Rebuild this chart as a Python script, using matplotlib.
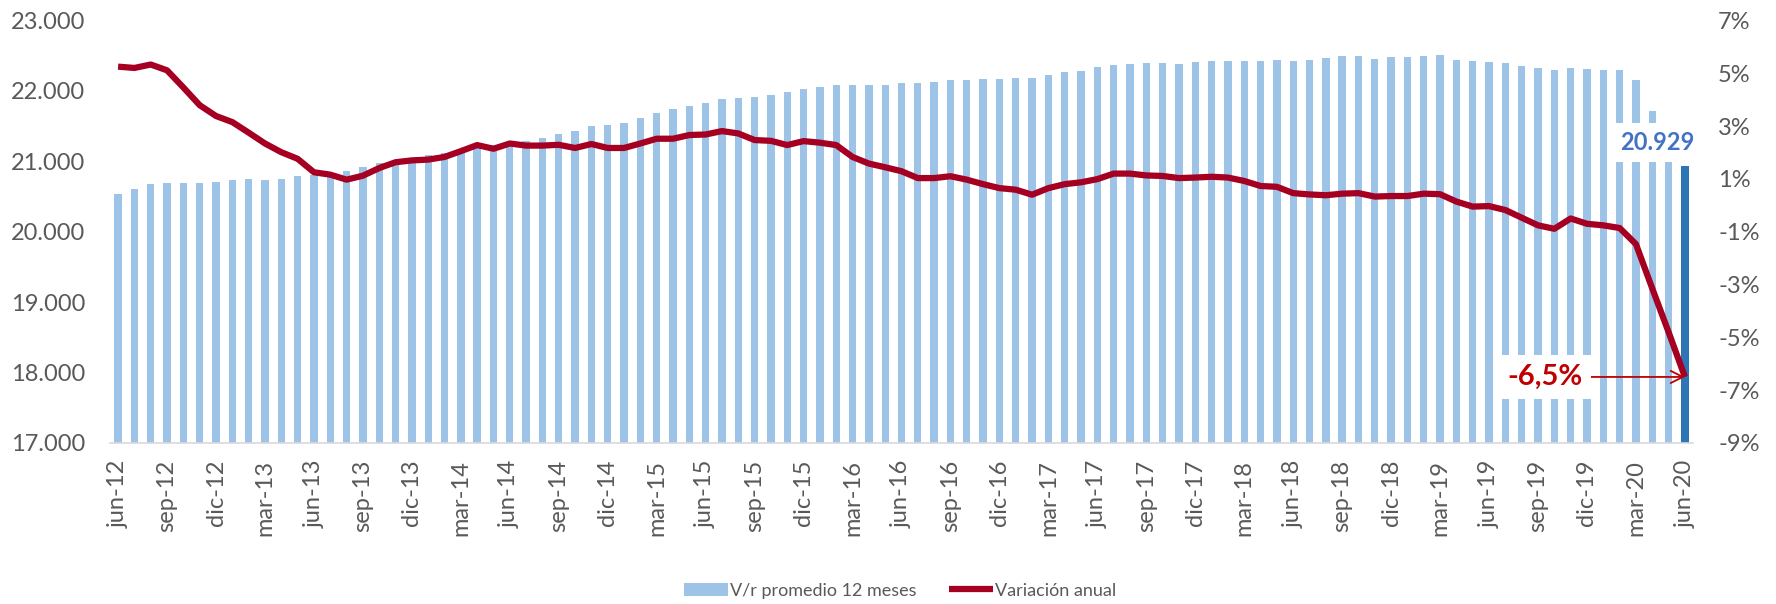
import numpy as np
import matplotlib
matplotlib.use('Agg')
import matplotlib.pyplot as plt

plt.rcParams['font.family'] = ['Lato', 'DejaVu Sans']

# meses de jun-12 a jun-20
meses_abr = ['ene', 'feb', 'mar', 'abr', 'may', 'jun', 'jul', 'ago', 'sep', 'oct', 'nov', 'dic']
meses = [f"{meses_abr[(5 + i) % 12]}-{12 + (5 + i) // 12}" for i in range(97)]

# V/r promedio 12 meses (eje izquierdo)
promedio_12m = [
    20538, 20605, 20681, 20695, 20695, 20690, 20705, 20738, 20748, 20738,
    20748, 20790, 20800, 20810, 20867, 20919, 20976, 21000, 21033, 21095,
    21119, 21129, 21214, 21225, 21238, 21286, 21333, 21390, 21424, 21495,
    21514, 21548, 21610, 21681, 21743, 21786, 21829, 21881, 21905, 21914,
    21943, 21986, 22033, 22052, 22090, 22076, 22086, 22090, 22110, 22105,
    22129, 22152, 22157, 22162, 22171, 22181, 22181, 22219, 22267, 22286,
    22333, 22362, 22381, 22390, 22395, 22384, 22408, 22417, 22417, 22427,
    22427, 22436, 22422, 22445, 22460, 22488, 22488, 22450, 22479, 22483,
    22498, 22502, 22441, 22422, 22412, 22398, 22351, 22318, 22294, 22322,
    22308, 22303, 22294, 22161, 21710, 21330, 20929,
]

# Variación anual en % (eje derecho)
variacion = [
    5.25, 5.20, 5.33, 5.11, 4.46, 3.79, 3.38, 3.15, 2.75, 2.34,
    2.01, 1.76, 1.25, 1.16, 0.97, 1.12, 1.41, 1.63, 1.70, 1.73,
    1.83, 2.05, 2.28, 2.14, 2.34, 2.26, 2.26, 2.29, 2.17, 2.32,
    2.17, 2.17, 2.34, 2.52, 2.52, 2.66, 2.68, 2.81, 2.72, 2.47,
    2.44, 2.28, 2.43, 2.37, 2.28, 1.83, 1.58, 1.44, 1.29, 1.03,
    1.03, 1.10, 0.97, 0.80, 0.65, 0.59, 0.40, 0.65, 0.80, 0.87,
    0.99, 1.20, 1.20, 1.13, 1.11, 1.03, 1.05, 1.08, 1.05, 0.92,
    0.73, 0.70, 0.46, 0.41, 0.38, 0.44, 0.46, 0.33, 0.35, 0.35,
    0.44, 0.42, 0.14, -0.05, -0.03, -0.18, -0.47, -0.76, -0.89, -0.50,
    -0.70, -0.76, -0.86, -1.47, -3.15, -4.80, -6.50,
]

ticks_izq = [17000, 18000, 19000, 20000, 21000, 22000, 23000]
ticks_der = [-9, -7, -5, -3, -1, 1, 3, 5, 7]

gris = '#595959'
n = len(meses)
x = np.arange(n)

fig = plt.figure(figsize=(17.76, 6.04), dpi=100)
ax = fig.add_axes([0.0619, 0.2666, 0.8914, 0.6996])

colores = ['#9DC3E6'] * (n - 1) + ['#2E75B6']
ax.bar(x, promedio_12m, width=0.45, color=colores, zorder=2, label='V/r promedio 12 meses')
ax.set_xlim(-0.5, n - 0.5)
ax.set_ylim(17000, 23000)
ax.set_yticks(ticks_izq)
ax.set_yticklabels([f"{v:,}".replace(',', '.') for v in ticks_izq])
ax.set_xticks(x[::3])
ax.set_xticklabels(meses[::3], rotation=90)
ax.tick_params(axis='both', length=0, labelsize=17, labelcolor=gris)
ax.tick_params(axis='y', pad=18)
ax.tick_params(axis='x', pad=12)
for s in ['top', 'left', 'right']:
    ax.spines[s].set_visible(False)
ax.spines['bottom'].set_color('#D9D9D9')
ax.spines['bottom'].set_linewidth(1.2)

# etiqueta del último valor
ax.annotate(f"{promedio_12m[-1]:,}".replace(',', '.'), xy=(x[-1], promedio_12m[-1]),
            xytext=(-20, 17), textcoords='offset points', ha='center', va='center',
            fontsize=17, fontweight='bold', color='#4472C4', zorder=5,
            bbox=dict(boxstyle='square,pad=0.35', fc='white', ec='none'))

ax2 = ax.twinx()
ax2.plot(x, variacion, color='#A50021', lw=4.5, solid_joinstyle='round',
         solid_capstyle='butt', label='Variación anual')
ax2.set_ylim(-9, 7)
ax2.set_yticks(ticks_der)
ax2.set_yticklabels([f"{v}%" for v in ticks_der])
ax2.tick_params(axis='y', length=0, labelsize=17, labelcolor=gris, pad=18)
for s in ax2.spines.values():
    s.set_visible(False)

ax2.annotate(f"{variacion[-1]:.1f}%".replace('.', ','), xy=(x[-1], variacion[-1]),
             xytext=(-101, 0), textcoords='offset points', ha='center', va='center',
             fontsize=21, fontweight='bold', color='#C00000',
             bbox=dict(boxstyle='square,pad=0.3', fc='white', ec='none'),
             arrowprops=dict(arrowstyle='->', color='#C00000', lw=1.3,
                             mutation_scale=22, shrinkA=0, shrinkB=0))

h1, l1 = ax.get_legend_handles_labels()
h2, l2 = ax2.get_legend_handles_labels()
fig.legend(h1 + h2, l1 + l2, loc='center', bbox_to_anchor=(0.507, 0.022), ncol=2,
           frameon=False, fontsize=13, handlelength=2.4, handletextpad=0.15,
           columnspacing=1.8, labelcolor=gris)

fig.savefig('out.png', dpi=100)
